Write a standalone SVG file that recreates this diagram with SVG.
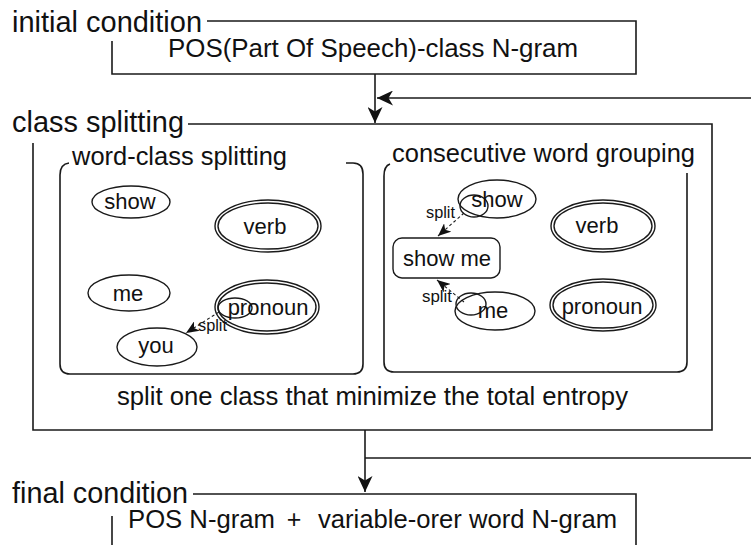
<svg xmlns="http://www.w3.org/2000/svg" width="751" height="545" viewBox="0 0 751 545">
  <style>
    .frame { fill: none; stroke: #1a1a1a; stroke-width: 1.6; }
    .conn { fill: none; stroke: #1a1a1a; stroke-width: 1.6; }
    .dash { fill: none; stroke: #1a1a1a; stroke-width: 1.1; stroke-dasharray: 3 2.5; }
    .ell { fill: none; stroke: #1a1a1a; stroke-width: 1.4; }
    .head { font-family: "Liberation Sans", Arial, sans-serif; font-size: 30px; fill: #111; }
    .body { font-family: "Liberation Sans", Arial, sans-serif; font-size: 25px; fill: #111; }
    .lbl { font-family: "Liberation Sans", Arial, sans-serif; font-size: 22px; fill: #111; text-anchor: middle; }
    .tiny { font-family: "Liberation Sans", Arial, sans-serif; font-size: 16px; fill: #111; }
  </style>
  <defs>
    <marker id="arrow" viewBox="0 0 16 15" refX="16" refY="7.5" markerWidth="16" markerHeight="15" markerUnits="userSpaceOnUse" orient="auto">
      <path d="M0,0 L16,7.5 L0,15 L4.5,7.5 Z" fill="#111"/>
    </marker>
    <marker id="small" viewBox="0 0 13 11" refX="13" refY="5.5" markerWidth="13" markerHeight="11" markerUnits="userSpaceOnUse" orient="auto">
      <path d="M0,0 L13,5.5 L0,11 L3.5,5.5 Z" fill="#111"/>
    </marker>
  </defs>

  <rect width="751" height="545" fill="#fff"/>

  <!-- initial condition -->
  <g id="initial">
    <text class="head" x="12" y="32" textLength="190" lengthAdjust="spacingAndGlyphs">initial condition</text>
    <path class="frame" d="M207,21 H636 V74 H112 V41"/>
    <text class="body" x="168" y="57" textLength="410" lengthAdjust="spacingAndGlyphs">POS(Part Of Speech)-class N-gram</text>
  </g>

  <!-- class splitting -->
  <g id="splitting">
    <text class="head" x="12" y="132" textLength="172" lengthAdjust="spacingAndGlyphs">class splitting</text>
    <path class="frame" d="M188,124 H712 V430 H33 V143"/>
    <text class="body" x="117" y="405" textLength="511" lengthAdjust="spacingAndGlyphs">split one class that minimize the total entropy</text>
  </g>

  <!-- word-class splitting panel -->
  <g id="word-class">
    <path class="frame" d="M69,163 Q60,164 60,175 V364 Q60,374 70,374 H353 Q363,374 363,364 V174 Q363,163 353,163 H346"/>
    <text class="body" x="72" y="165" textLength="215" lengthAdjust="spacingAndGlyphs">word-class splitting</text>
  </g>
  <g id="wc-show">
    <ellipse class="ell" cx="131" cy="202" rx="39" ry="16"/>
    <text class="lbl" x="130" y="209">show</text>
  </g>
  <g id="wc-verb">
    <ellipse class="ell" cx="268" cy="226" rx="53" ry="26"/>
    <ellipse class="ell" cx="268" cy="226" rx="50" ry="23"/>
    <text class="lbl" x="265" y="234">verb</text>
  </g>
  <g id="wc-me">
    <ellipse class="ell" cx="129" cy="293" rx="41" ry="18"/>
    <text class="lbl" x="128" y="301">me</text>
  </g>
  <g id="wc-pronoun">
    <ellipse class="ell" cx="267" cy="307" rx="52" ry="27"/>
    <ellipse class="ell" cx="267" cy="307" rx="49" ry="24"/>
    <ellipse class="ell" cx="235" cy="308" rx="17" ry="10"/>
    <text class="lbl" x="268" y="315">pronoun</text>
  </g>
  <g id="wc-you">
    <ellipse class="ell" cx="157" cy="347" rx="40" ry="19"/>
    <text class="lbl" x="156" y="353">you</text>
  </g>

  <!-- consecutive word grouping panel -->
  <g id="grouping">
    <path class="frame" d="M390,164 Q384,166 384,176 V362 Q384,372 394,372 H677 Q687,372 687,362 V173"/>
    <text class="body" x="392" y="162" textLength="303" lengthAdjust="spacingAndGlyphs">consecutive word grouping</text>
  </g>
  <g id="cg-show">
    <ellipse class="ell" cx="497" cy="199" rx="39" ry="19"/>
    <ellipse class="ell" cx="474" cy="206" rx="14" ry="11"/>
    <text class="lbl" x="497" y="207">show</text>
  </g>
  <g id="cg-verb">
    <ellipse class="ell" cx="603" cy="226" rx="52" ry="26"/>
    <ellipse class="ell" cx="603" cy="226" rx="49" ry="23"/>
    <text class="lbl" x="597" y="233">verb</text>
  </g>
  <g id="cg-showme">
    <rect class="ell" x="393" y="238" width="107" height="40" rx="9"/>
    <text class="lbl" x="447" y="266">show me</text>
  </g>
  <g id="cg-me">
    <ellipse class="ell" cx="495" cy="311" rx="40" ry="19"/>
    <ellipse class="ell" cx="471" cy="304" rx="15" ry="11"/>
    <text class="lbl" x="493" y="318">me</text>
  </g>
  <g id="cg-pronoun">
    <ellipse class="ell" cx="603" cy="305" rx="53" ry="26"/>
    <ellipse class="ell" cx="603" cy="305" rx="50" ry="23"/>
    <text class="lbl" x="602" y="314">pronoun</text>
  </g>

  <!-- final condition -->
  <g id="final">
    <text class="head" x="12" y="503" textLength="176" lengthAdjust="spacingAndGlyphs">final condition</text>
    <path class="frame" d="M193,494 H636 V545 M112,545 V516"/>
    <text class="body" x="128" y="528" textLength="147" lengthAdjust="spacingAndGlyphs">POS N-gram</text>
    <text class="body" x="294" y="528" text-anchor="middle">+</text>
    <text class="body" x="318" y="528" textLength="299" lengthAdjust="spacingAndGlyphs">variable-orer word N-gram</text>
  </g>

  <!-- connectors -->
  <g id="connectors">
    <line class="conn" x1="375" y1="74" x2="375" y2="123" marker-end="url(#arrow)"/>
    <line class="conn" x1="751" y1="98" x2="377" y2="98" marker-end="url(#arrow)"/>
    <line class="conn" x1="365" y1="430" x2="365" y2="492" marker-end="url(#arrow)"/>
    <line class="conn" x1="365" y1="458" x2="751" y2="458"/>

    <line class="dash" x1="219" y1="312" x2="186" y2="333" marker-end="url(#small)"/>
    <text class="tiny" x="198" y="331" textLength="29" lengthAdjust="spacingAndGlyphs">split</text>

    <line class="dash" x1="464" y1="213" x2="438" y2="236" marker-end="url(#small)"/>
    <text class="tiny" x="426" y="218" textLength="29" lengthAdjust="spacingAndGlyphs">split</text>

    <line class="dash" x1="464" y1="302" x2="437" y2="280" marker-end="url(#small)"/>
    <text class="tiny" x="422" y="302" textLength="30" lengthAdjust="spacingAndGlyphs">split</text>
  </g>
</svg>
